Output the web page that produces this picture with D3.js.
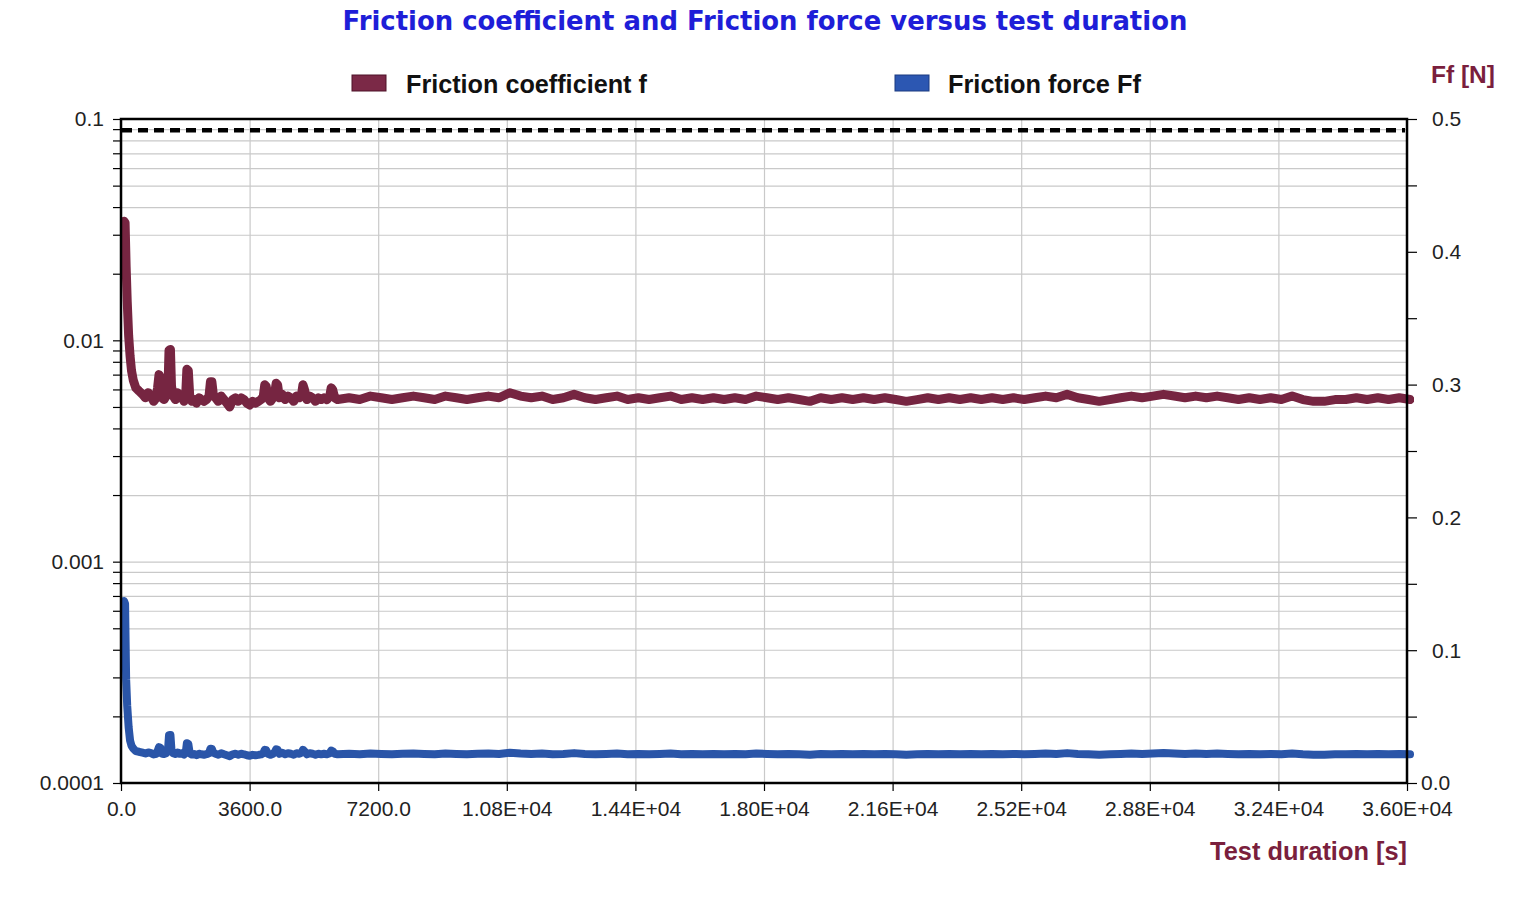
<!DOCTYPE html>
<html>
<head>
<meta charset="utf-8">
<script src="https://cdn.jsdelivr.net/npm/d3@7/dist/d3.min.js"></script>
<style>
  html, body { margin: 0; padding: 0; background: #ffffff; }
  svg { display: block; }
</style>
</head>
<body>
<svg id="chart" width="1518" height="909"></svg>
<script>
// ---------------- DATA ----------------
const time = [
  0, 30, 60, 90, 130, 170, 210, 260, 330, 420, 520, 600, 680, 760, 830, 900, 940, 980, 1020, 1060,
  1120, 1180, 1230, 1260, 1300, 1330, 1380, 1440, 1500, 1560, 1620, 1680, 1730, 1760, 1800, 1840, 1900, 1960, 2030, 2100,
  2170, 2240, 2310, 2380, 2420, 2460, 2500, 2560, 2640, 2720, 2800, 2880, 2960, 3040, 3120, 3200, 3280, 3360, 3440, 3520,
  3600, 3680, 3760, 3840, 3900, 3940, 3980, 4030, 4100, 4170, 4220, 4260, 4300, 4350, 4430, 4510, 4590, 4670, 4750, 4830,
  4910, 4970, 5010, 5050, 5120, 5200, 5280, 5360, 5440, 5520, 5600, 5680, 5760, 5800, 5840, 5900, 5980,
  6300, 6600, 6900, 7200, 7500, 7800, 8100, 8400, 8700, 9000,
  9300, 9600, 9900, 10200, 10500, 10800, 11100, 11400, 11700, 12000,
  12300, 12600, 12900, 13200, 13500, 13800, 14100, 14400, 14700, 15000,
  15300, 15600, 15900, 16200, 16500, 16800, 17100, 17400, 17700, 18000,
  18300, 18600, 18900, 19200, 19500, 19800, 20100, 20400, 20700, 21000,
  21300, 21600, 21900, 22200, 22500, 22800, 23100, 23400, 23700, 24000,
  24300, 24600, 24900, 25200, 25500, 25800, 26100, 26400, 26700, 27000,
  27300, 27600, 27900, 28200, 28500, 28800, 29100, 29400, 29700, 30000,
  30300, 30600, 30900, 31200, 31500, 31800, 32100, 32400, 32700, 33000,
  33300, 33600, 33900, 34200, 34500, 34800, 35100, 35400, 35700, 36000
];

const frictionCoef = [
  0.0345, 0.0340, 0.0215, 0.0150, 0.0105, 0.0085, 0.0073, 0.0066, 0.0061, 0.0059, 0.0057, 0.0055, 0.0058, 0.0056, 0.0053, 0.0055, 0.0061, 0.0070, 0.0068, 0.0055,
  0.0054, 0.0056, 0.0060, 0.0090, 0.0091, 0.0062, 0.0056, 0.0054, 0.0058, 0.0055, 0.0056, 0.0053, 0.0058, 0.0074, 0.0073, 0.0056, 0.0053, 0.0054, 0.0052, 0.0055,
  0.0054, 0.0053, 0.0054, 0.0056, 0.0065, 0.0065, 0.0057, 0.0055, 0.0053, 0.0056, 0.0054, 0.0052, 0.0050, 0.0054, 0.0055, 0.0053, 0.0055, 0.0054, 0.0052, 0.0051,
  0.0053, 0.0052, 0.0053, 0.0054, 0.0056, 0.0063, 0.0062, 0.0055, 0.0053, 0.0055, 0.0058, 0.0064, 0.0063, 0.0055, 0.0057, 0.0054, 0.0056, 0.0055, 0.0053, 0.0056,
  0.0055, 0.0057, 0.0063, 0.0060, 0.0054, 0.0056, 0.0055, 0.0053, 0.0055, 0.0054, 0.0055, 0.0054, 0.0056, 0.0061, 0.0060, 0.0055, 0.0054,
  0.0055, 0.0054, 0.0056, 0.0055, 0.0054, 0.0055, 0.0056, 0.0055, 0.0054, 0.0056,
  0.0055, 0.0054, 0.0055, 0.0056, 0.0055, 0.0058, 0.0056, 0.0055, 0.0056, 0.0054,
  0.0055, 0.0057, 0.0055, 0.0054, 0.0055, 0.0056, 0.0054, 0.0055, 0.0054, 0.0055,
  0.0056, 0.0054, 0.0055, 0.0054, 0.0055, 0.0054, 0.0055, 0.0054, 0.0056, 0.0055,
  0.0054, 0.0055, 0.0054, 0.0053, 0.0055, 0.0054, 0.0055, 0.0054, 0.0055, 0.0054,
  0.0055, 0.0054, 0.0053, 0.0054, 0.0055, 0.0054, 0.0055, 0.0054, 0.0055, 0.0054,
  0.0055, 0.0054, 0.0055, 0.0054, 0.0055, 0.0056, 0.0055, 0.0057, 0.0055, 0.0054,
  0.0053, 0.0054, 0.0055, 0.0056, 0.0055, 0.0056, 0.0057, 0.0056, 0.0055, 0.0056,
  0.0055, 0.0056, 0.0055, 0.0054, 0.0055, 0.0054, 0.0055, 0.0054, 0.0056, 0.0054,
  0.0053, 0.0053, 0.0054, 0.0054, 0.0055, 0.0054, 0.0055, 0.0054, 0.0055, 0.0054
];

const frictionForce = [
  0.137, 0.135, 0.078, 0.058, 0.042, 0.032, 0.028, 0.026, 0.024, 0.0235, 0.0228, 0.0222, 0.0230, 0.0225, 0.0215, 0.0220, 0.0240, 0.0270, 0.0265, 0.0222,
  0.0218, 0.0224, 0.0240, 0.0360, 0.0362, 0.0245, 0.0224, 0.0218, 0.0230, 0.0220, 0.0224, 0.0214, 0.0232, 0.0300, 0.0295, 0.0224, 0.0214, 0.0218, 0.0210, 0.0220,
  0.0216, 0.0213, 0.0217, 0.0224, 0.0258, 0.0256, 0.0228, 0.0220, 0.0213, 0.0224, 0.0216, 0.0209, 0.0202, 0.0216, 0.0220, 0.0213, 0.0220, 0.0216, 0.0209, 0.0205,
  0.0212, 0.0209, 0.0212, 0.0216, 0.0224, 0.0250, 0.0247, 0.0220, 0.0212, 0.0220, 0.0232, 0.0254, 0.0250, 0.0220, 0.0228, 0.0216, 0.0224, 0.0220, 0.0213, 0.0224,
  0.0220, 0.0228, 0.0250, 0.0240, 0.0216, 0.0224, 0.0220, 0.0213, 0.0220, 0.0216, 0.0220, 0.0216, 0.0224, 0.0244, 0.0240, 0.0220, 0.0216,
  0.0220, 0.0216, 0.0222, 0.0219, 0.0216, 0.0220, 0.0222, 0.0219, 0.0216, 0.0222,
  0.0219, 0.0216, 0.0220, 0.0222, 0.0219, 0.0228, 0.0222, 0.0219, 0.0222, 0.0216,
  0.0219, 0.0225, 0.0219, 0.0216, 0.0219, 0.0222, 0.0216, 0.0219, 0.0216, 0.0219,
  0.0222, 0.0216, 0.0219, 0.0216, 0.0219, 0.0216, 0.0219, 0.0216, 0.0222, 0.0219,
  0.0216, 0.0219, 0.0216, 0.0213, 0.0219, 0.0216, 0.0219, 0.0216, 0.0219, 0.0216,
  0.0219, 0.0216, 0.0213, 0.0216, 0.0219, 0.0216, 0.0219, 0.0216, 0.0219, 0.0216,
  0.0219, 0.0216, 0.0219, 0.0216, 0.0219, 0.0222, 0.0219, 0.0225, 0.0219, 0.0216,
  0.0213, 0.0216, 0.0219, 0.0222, 0.0219, 0.0222, 0.0225, 0.0222, 0.0219, 0.0222,
  0.0219, 0.0222, 0.0219, 0.0216, 0.0219, 0.0216, 0.0219, 0.0216, 0.0222, 0.0216,
  0.0213, 0.0213, 0.0216, 0.0216, 0.0219, 0.0216, 0.0219, 0.0216, 0.0219, 0.0216
];

const limitCoef = 0.089;

const xTickValues = [0, 3600, 7200, 10800, 14400, 18000, 21600, 25200, 28800, 32400, 36000];
const xTickLabels = ["0.0", "3600.0", "7200.0", "1.08E+04", "1.44E+04", "1.80E+04", "2.16E+04", "2.52E+04", "2.88E+04", "3.24E+04", "3.60E+04"];

const leftMajorTicks = [0.0001, 0.001, 0.01, 0.1];
const leftMajorLabels = ["0.0001", "0.001", "0.01", "0.1"];

const rightTickValues = [0, 0.05, 0.1, 0.15, 0.2, 0.25, 0.3, 0.35, 0.4, 0.45, 0.5];
const rightMajorTicks = [0, 0.1, 0.2, 0.3, 0.4, 0.5];
const rightMajorLabels = ["0.0", "0.1", "0.2", "0.3", "0.4", "0.5"];

const seriesNames = ["Friction coefficient f", "Friction force Ff"];
const titleText = "Friction coefficient and Friction force versus test duration";
const xAxisTitle = "Test duration [s]";
const rightAxisTitle = "Ff [N]";

// ---------------- LAYOUT ----------------
const L = 121, R = 1407, T = 119, B = 783;
const colCoef = "#762541";
const colForce = "#2a55a8";
const axisFont = "'Liberation Sans', Arial, sans-serif";
const tickFontSize = 21;

const svg = d3.select("#chart");

const x = d3.scaleLinear().domain([0, 36000]).range([L, R]);
const yL = d3.scaleLog().domain([0.0001, 0.1]).range([B, T]);
const yR = d3.scaleLinear().domain([0, 0.5]).range([B, T]);

const logTicks = yL.ticks();

// grid
const grid = svg.append("g").attr("class", "grid");
grid.append("g")
  .attr("transform", `translate(${L},0)`)
  .call(d3.axisLeft(yL).tickValues(logTicks).tickSize(-(R - L)).tickFormat(""))
  .call(g => g.select(".domain").remove())
  .call(g => g.selectAll("line").attr("stroke", "#c9c9c9").attr("stroke-width", 1.2));
grid.append("g")
  .attr("transform", `translate(0,${B})`)
  .call(d3.axisBottom(x).tickValues(xTickValues).tickSize(-(B - T)).tickFormat(""))
  .call(g => g.select(".domain").remove())
  .call(g => g.selectAll("line").attr("stroke", "#c9c9c9").attr("stroke-width", 1.2));

// clip
svg.append("clipPath").attr("id", "plotclip")
  .append("rect").attr("x", L + 1).attr("y", T).attr("width", R - L + 6).attr("height", B - T);

const plot = svg.append("g").attr("clip-path", "url(#plotclip)");

// limit dashed line
plot.append("line")
  .attr("x1", L + 1).attr("x2", R - 2)
  .attr("y1", yL(limitCoef)).attr("y2", yL(limitCoef))
  .attr("stroke", "#000").attr("stroke-width", 4.5)
  .attr("stroke-dasharray", "10,6");

const idx = d3.range(time.length);

const lineCoef = d3.line()
  .x(i => x(time[i]) + 3)
  .y(i => yL(frictionCoef[i]));
const lineForce = d3.line()
  .x(i => x(time[i]) + 3)
  .y(i => yR(frictionForce[i]));

plot.append("path")
  .attr("d", lineCoef(idx))
  .attr("fill", "none").attr("stroke", colCoef)
  .attr("stroke-width", 9)
  .attr("stroke-linejoin", "round").attr("stroke-linecap", "round");

plot.append("path")
  .attr("d", lineForce(idx))
  .attr("fill", "none").attr("stroke", colForce)
  .attr("stroke-width", 8)
  .attr("stroke-linejoin", "round").attr("stroke-linecap", "round");

// frame
svg.append("rect")
  .attr("x", L).attr("y", T).attr("width", R - L).attr("height", B - T)
  .attr("fill", "none").attr("stroke", "#000").attr("stroke-width", 2.5);

// left axis
const leftAxis = svg.append("g")
  .attr("transform", `translate(${L},0)`)
  .call(d3.axisLeft(yL).tickValues(logTicks).tickSize(8).tickPadding(9)
    .tickFormat(d => {
      const k = leftMajorTicks.findIndex(v => Math.abs(v - d) / v < 1e-6);
      return k >= 0 ? leftMajorLabels[k] : "";
    }));
leftAxis.select(".domain").remove();
leftAxis.selectAll("line").attr("stroke", "#000").attr("stroke-width", 1.2);
leftAxis.selectAll("text").attr("font-family", axisFont).attr("font-size", tickFontSize)
  .attr("fill", "#222").attr("dy", "0.33em");

// right axis
const rightAxis = svg.append("g")
  .attr("transform", `translate(${R},0)`)
  .call(d3.axisRight(yR).tickValues(rightTickValues).tickSize(10).tickPadding(15)
    .tickFormat(d => {
      const k = rightMajorTicks.findIndex(v => Math.abs(v - d) < 1e-9);
      return k >= 0 ? rightMajorLabels[k] : "";
    }));
rightAxis.select(".domain").remove();
rightAxis.selectAll("line").attr("stroke", "#000").attr("stroke-width", 1.2);
rightAxis.selectAll("text").attr("font-family", axisFont).attr("font-size", tickFontSize)
  .attr("fill", "#222").attr("dy", "0.33em");
rightAxis.selectAll(".tick").filter(d => d === 0).select("text").attr("x", 14);

// bottom axis
const bottomAxis = svg.append("g")
  .attr("transform", `translate(0,${B})`)
  .call(d3.axisBottom(x).tickValues(xTickValues).tickSize(8).tickPadding(10)
    .tickFormat((d, i) => xTickLabels[i]));
bottomAxis.select(".domain").remove();
bottomAxis.selectAll("line").attr("stroke", "#000").attr("stroke-width", 1.2);
bottomAxis.selectAll("text").attr("font-family", axisFont).attr("font-size", tickFontSize)
  .attr("fill", "#222");

function fitText(sel, targetWidth) {
  const node = sel.node();
  const w = node.getComputedTextLength();
  const fs = parseFloat(sel.attr("font-size"));
  if (w > 0) sel.attr("font-size", fs * targetWidth / w);
}

// title
const title = svg.append("text")
  .attr("x", 765).attr("y", 30)
  .attr("text-anchor", "middle")
  .attr("font-family", "'DejaVu Sans', Verdana, sans-serif")
  .attr("font-weight", "bold")
  .attr("font-size", 26)
  .attr("fill", "#1e1ed8")
  .text(titleText);
fitText(title, 845);

// legend
const legendItems = [
  { name: seriesNames[0], color: "#7b2947", stroke: "#4e1228", sx: 352, tx: 406, tw: 241 },
  { name: seriesNames[1], color: "#2c57b2", stroke: "#1b3a80", sx: 895, tx: 948, tw: 193 }
];
const legend = svg.append("g");
legendItems.forEach(it => {
  legend.append("rect")
    .attr("x", it.sx).attr("y", 75).attr("width", 34).attr("height", 16)
    .attr("fill", it.color).attr("stroke", it.stroke).attr("stroke-width", 1);
  const t = legend.append("text")
    .attr("x", it.tx).attr("y", 93)
    .attr("font-family", axisFont).attr("font-weight", "bold")
    .attr("font-size", 24).attr("fill", "#111")
    .text(it.name);
  fitText(t, it.tw);
});

// axis titles
const rt = svg.append("text")
  .attr("x", 1431).attr("y", 83)
  .attr("font-family", axisFont).attr("font-weight", "bold")
  .attr("font-size", 22).attr("fill", "#7a1f3d")
  .text(rightAxisTitle);
fitText(rt, 64);

const xt = svg.append("text")
  .attr("x", 1407).attr("y", 860)
  .attr("text-anchor", "end")
  .attr("font-family", axisFont).attr("font-weight", "bold")
  .attr("font-size", 23).attr("fill", "#7a1f3d")
  .text(xAxisTitle);
fitText(xt, 197);
</script>
</body>
</html>
